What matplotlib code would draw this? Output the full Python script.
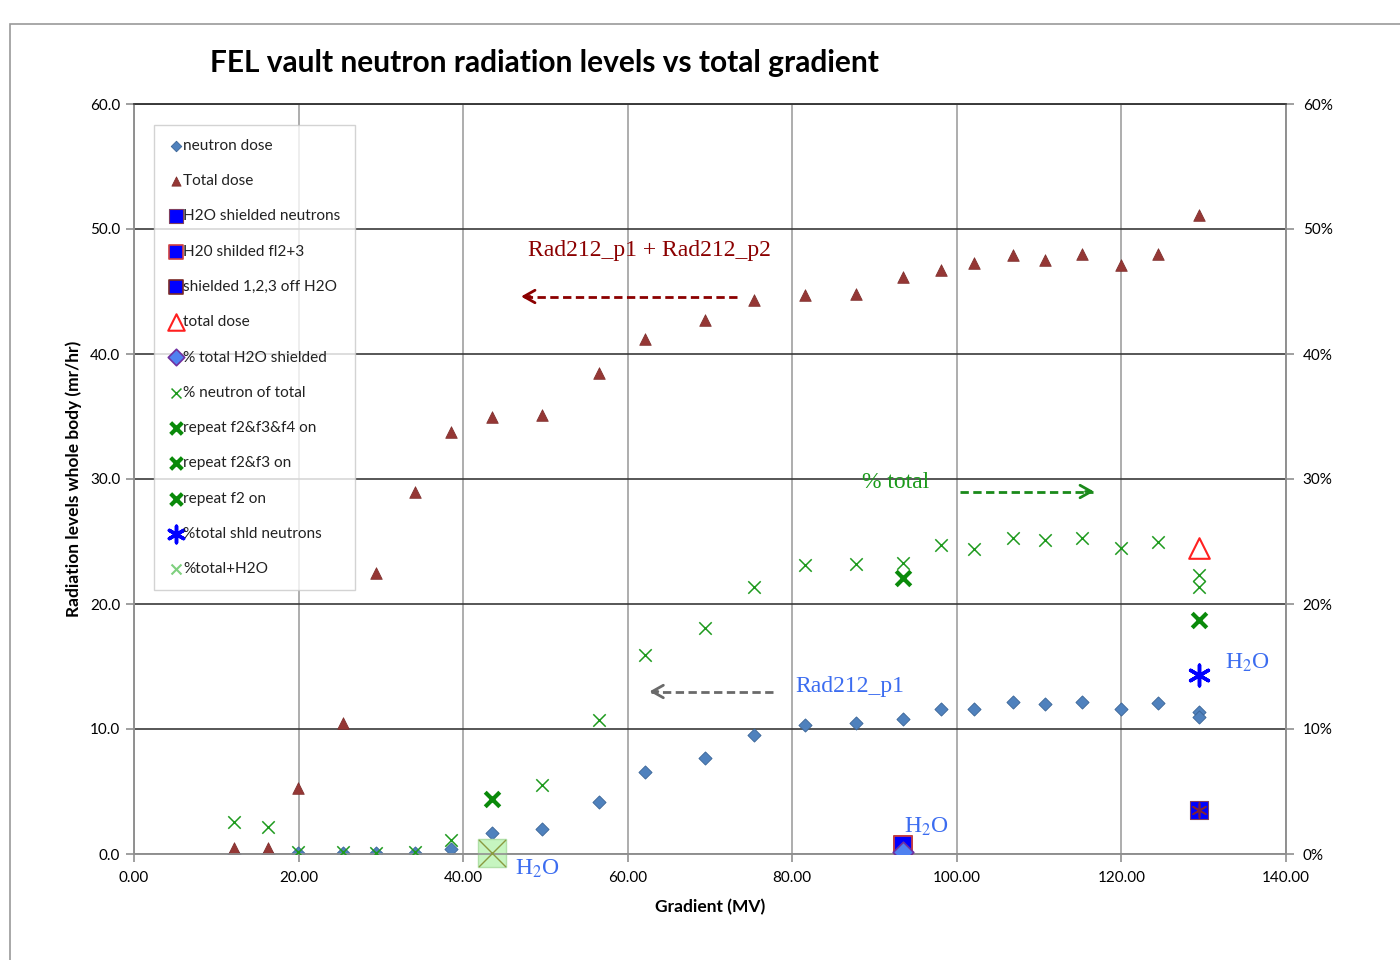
import matplotlib
matplotlib.use("Agg")
import matplotlib.pyplot as plt
from matplotlib.patches import Rectangle
from matplotlib.ticker import FuncFormatter, MultipleLocator

plt.rcParams['font.family'] = ['Lato', 'DejaVu Sans']
plt.rcParams['mathtext.fontset'] = 'stix'

# gradient (MV) for the main scan
gradient = [12.2, 16.3, 19.9, 25.4, 29.4, 34.1, 38.5, 43.5, 49.6, 56.5, 62.1, 69.4, 75.3,
            81.5, 87.8, 93.4, 98.1, 102.1, 106.8, 110.7, 115.2, 119.9, 124.4, 129.4, 129.4]
neutron_dose = [0.0, 0.0, 0.1, 0.05, 0.05, 0.1, 0.4, 1.7, 2.0, 4.2, 6.6, 7.7, 9.5,
                10.3, 10.5, 10.8, 11.6, 11.6, 12.2, 12.0, 12.2, 11.6, 12.1, 11.4, 11.0]
grad_total = [12.2, 16.3, 19.9, 25.4, 29.4, 34.1, 38.5, 43.5, 49.6, 56.5, 62.1, 69.4, 75.3,
              81.5, 87.8, 93.4, 98.1, 102.1, 106.8, 110.7, 115.2, 119.9, 124.4, 129.4]
total_dose = [0.5, 0.5, 5.3, 10.5, 22.5, 29.0, 33.8, 35.0, 35.1, 38.5, 41.2, 42.7, 44.3,
              44.7, 44.8, 46.2, 46.7, 47.3, 47.9, 47.5, 48.0, 47.1, 48.0, 51.1]
grad_pct = [12.2, 16.3, 19.9, 25.4, 29.4, 34.1, 38.5, 49.6, 56.5, 62.1, 69.4, 75.3,
            81.5, 87.8, 93.4, 98.1, 102.1, 106.8, 110.7, 115.2, 119.9, 124.4, 129.4, 129.4]
pct_neutron = [2.6, 2.2, 0.2, 0.2, 0.1, 0.2, 1.1, 5.5, 10.7, 15.9, 18.1, 21.4,
               23.1, 23.2, 23.3, 24.7, 24.4, 25.3, 25.1, 25.3, 24.5, 25.0, 22.3, 21.4]

# single shielded / repeat points
h2o_shielded_x, h2o_shielded_y = [129.4], [3.5]
h20_fl23_x, h20_fl23_y = [93.4], [0.7]
off123_x, off123_y = [93.4], [0.7]
total_dose2_x, total_dose2_y = [129.4], [24.5]
pct_h2o_x, pct_h2o_y = [93.4], [0.2]
rep_f234_x, rep_f234_y = [43.5], [4.4]
rep_f23_x, rep_f23_y = [93.4], [22.1]
rep_f2_x, rep_f2_y = [129.4], [18.7]
pct_shld_x, pct_shld_y = [129.4], [14.3]
pct_tot_h2o_x, pct_tot_h2o_y = [43.5], [0.1]

fig = plt.figure(figsize=(14, 9.6), dpi=100)
fig.patches.append(Rectangle((10 / 1400, -0.01), 1.02, 0.985, transform=fig.transFigure,
                             fill=False, edgecolor='#9a9a9a', lw=1.2))

ax = fig.add_axes([134 / 1400, 106 / 960, 1152 / 1400, 750 / 960])
ax2 = ax.twinx()

ax.set_xlim(0, 140)
ax.set_ylim(0, 60)
ax2.set_ylim(0, 60)
ax.xaxis.set_major_locator(MultipleLocator(20))
ax.yaxis.set_major_locator(MultipleLocator(10))
ax2.yaxis.set_major_locator(MultipleLocator(10))
ax.xaxis.set_major_formatter(FuncFormatter(lambda v, p: f"{v:.2f}"))
ax.yaxis.set_major_formatter(FuncFormatter(lambda v, p: f"{v:.1f}"))
ax2.yaxis.set_major_formatter(FuncFormatter(lambda v, p: f"{v:.0f}%"))

ax.grid(axis='x', color='#a0a0a0', lw=1.2)
ax.grid(axis='y', color='#3a3a3a', lw=1.2)
ax.set_axisbelow(True)
for a in (ax, ax2):
    for s in a.spines.values():
        s.set_color('#909090')
        s.set_linewidth(1.2)
    a.spines['top'].set_color('#3a3a3a')
ax.tick_params(axis='both', labelsize=11, color='#909090', length=6, width=1.2, pad=4)
ax2.tick_params(axis='y', labelsize=11, color='#909090', length=6, width=1.2, pad=6)
ax.tick_params(axis='x', pad=6)

handles = []
handles.append(ax.scatter(gradient, neutron_dose, marker='D', s=45, color='#4f81bd',
                          edgecolors='#3a6496', linewidths=0.6, zorder=3, label='neutron dose'))
handles.append(ax.scatter(grad_total, total_dose, marker='^', s=70, color='#953735',
                          edgecolors='#7a2a28', linewidths=0.5, zorder=3, label='Total dose'))
handles.append(ax.scatter(h2o_shielded_x, h2o_shielded_y, marker='s', s=150, color='#0000ff',
                          edgecolors='#7f3f5f', linewidths=0.8, zorder=3, label='H2O shielded neutrons'))
ax.scatter(h2o_shielded_x, h2o_shielded_y, marker=(6, 2, 0), s=110, color='#7a1f3d', lw=1.2, zorder=4)
handles.append(ax.scatter(h20_fl23_x, h20_fl23_y, marker='s', s=150, color='#0000ff',
                          edgecolors='#d04040', linewidths=1.2, zorder=3, label='H20 shilded fl2+3'))
handles.append(ax.scatter(off123_x, off123_y, marker='s', s=150, color='#0000ff',
                          edgecolors='#7a2a28', linewidths=1.2, zorder=2, label='shielded 1,2,3 off H2O'))
handles.append(ax.scatter(total_dose2_x, total_dose2_y, marker='^', s=220, facecolors='white',
                          edgecolors='#ff2020', linewidths=1.5, zorder=3, label='total dose'))
handles.append(ax2.scatter(pct_h2o_x, pct_h2o_y, marker='D', s=110, color='#4f81f0',
                           edgecolors='#7030a0', linewidths=1.2, zorder=3, label='% total H2O shielded'))
handles.append(ax2.scatter(grad_pct, pct_neutron, marker='x', s=80, color='#1e9a1e',
                           linewidths=1.1, zorder=3, label='% neutron of total'))
handles.append(ax2.scatter(rep_f234_x, rep_f234_y, marker='x', s=110, color='#0a8a0a',
                           linewidths=3, zorder=3, label='repeat f2&f3&f4 on'))
handles.append(ax2.scatter(rep_f23_x, rep_f23_y, marker='x', s=110, color='#0a8a0a',
                           linewidths=3, zorder=3, label='repeat f2&f3 on'))
handles.append(ax2.scatter(rep_f2_x, rep_f2_y, marker='x', s=110, color='#0a8a0a',
                           linewidths=3, zorder=3, label='repeat f2 on'))
handles.append(ax2.scatter(pct_shld_x, pct_shld_y, marker=(6, 2, 0), s=220, color='#0000ff',
                           linewidths=2.5, zorder=3, label='%total shld neutrons'))
ax2.scatter(pct_tot_h2o_x, pct_tot_h2o_y, marker='s', s=430, color='#c6f5c0',
            edgecolors='#b0e0a8', zorder=2, clip_on=False)
ax2.scatter(pct_tot_h2o_x, pct_tot_h2o_y, marker='x', s=380, color='#8a9a40', linewidths=1.0,
            zorder=3, clip_on=False)
handles.append(ax2.scatter([], [], marker='x', s=80, color='#7fd07f', linewidths=1.5,
                           label='%total+H2O'))

leg = ax2.legend(handles=handles, loc='upper left', bbox_to_anchor=(0.0175, 0.972),
                 fontsize=11.1, frameon=True, fancybox=False, edgecolor='#c8c8c8',
                 labelspacing=1.38, handletextpad=0.0, handlelength=1.0, borderpad=0.9,
                 scatterpoints=1, markerscale=0.8, borderaxespad=0)
leg.get_frame().set_linewidth(1.0)
for t in leg.get_texts():
    t.set_color('#222222')

# annotations
serif = ['Liberation Serif', 'DejaVu Serif']
ax.text(62.7, 48.3, 'Rad212_p1 + Rad212_p2', color='#8b0000', fontsize=17, family=serif,
        ha='center', va='center')
ax.plot([73.3, 47.2], [44.6, 44.6], ls=(0, (3, 1.6)), color='#8b0000', lw=2, zorder=5)
ax.annotate('', xy=(46.7, 44.6), xytext=(48.5, 44.6),
            arrowprops=dict(arrowstyle='->,head_length=0.8,head_width=0.45', color='#8b0000', lw=2))

ax.text(92.5, 29.7, '% total', color='#1a9a1a', fontsize=17, family=serif, ha='center', va='center')
ax.plot([100.4, 116.6], [29.0, 29.0], ls=(0, (3, 1.6)), color='#1a8a1a', lw=2, zorder=5)
ax.annotate('', xy=(117.0, 29.0), xytext=(115.3, 29.0),
            arrowprops=dict(arrowstyle='->,head_length=0.8,head_width=0.45', color='#1a8a1a', lw=2))

ax.text(80.4, 13.4, 'Rad212_p1', color='#3b6cf0', fontsize=17, family=serif, ha='left', va='center')
ax.plot([77.7, 62.8], [13.0, 13.0], ls=(0, (3, 1.6)), color='#6a6a6a', lw=2, zorder=5)
ax.annotate('', xy=(62.3, 13.0), xytext=(64.0, 13.0),
            arrowprops=dict(arrowstyle='->,head_length=0.8,head_width=0.45', color='#6a6a6a', lw=2))

for hx, hy in [(46.3, -1.2), (93.6, 2.2), (132.6, 15.3)]:
    ax.text(hx, hy, 'H$_2$O', color='#3b6cf0', fontsize=17, family=serif,
            ha='left', va='center', clip_on=False, zorder=6)

fig.text(544 / 1400, 1 - 63 / 960, 'FEL vault neutron radiation levels vs total gradient',
         fontsize=21.5, fontweight='bold', ha='center', va='center')
ax.set_xlabel('Gradient (MV)', fontsize=12.5, fontweight='bold', labelpad=10)
ax.set_ylabel('Radiation levels whole body (mr/hr)', fontsize=12.5, fontweight='bold', labelpad=6)

fig.savefig('out.png', dpi=100)
